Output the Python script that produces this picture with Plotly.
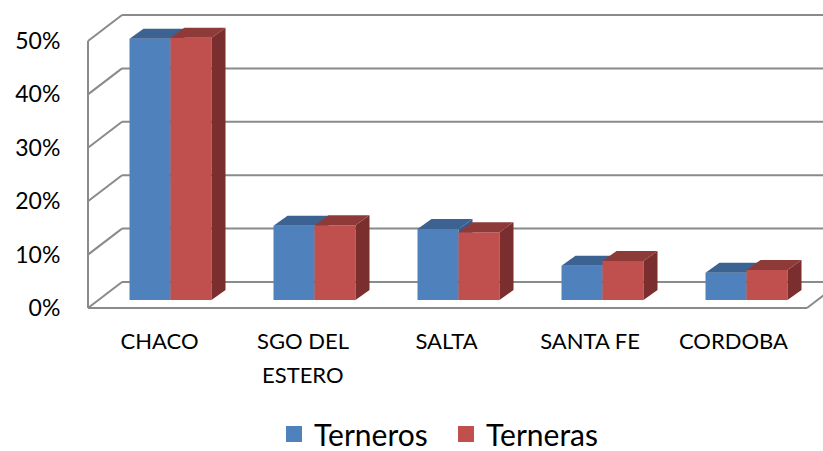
import plotly.graph_objects as go

categories = ["CHACO", "SGO DEL\nESTERO", "SALTA", "SANTA FE", "CORDOBA"]
terneros = [48.9, 13.9, 13.3, 6.4, 5.1]
terneras = [49.1, 14.0, 12.7, 7.3, 5.6]
y_ticks = [0, 10, 20, 30, 40, 50]

W, H = 823, 451
PX_CAT = 144.0      # px per category
PX_VAL = 5.34       # px per percent
X0 = 170.5          # px of category 0 centre
Y0 = 300.0          # px of value 0 at the bars' base
L, B_PX = 85, 311

px2x = lambda p: (p - X0) / PX_CAT
px2y = lambda p: (Y0 - p) / PX_VAL
DX = 14 / PX_CAT    # bar depth
DY = 10 / PX_VAL
BW = 41 / PX_CAT
FRONT = -8 / PX_VAL  # front wall offset in value units
BACK = 18 / PX_VAL   # back wall offset

BLUE, BLUE_TOP, BLUE_SIDE = "#4F81BD", "#3B6290", "#385D8A"
RED, RED_TOP, RED_SIDE = "#C0504D", "#8E3A38", "#7A2F2E"
GRID = "#8A8A8A"
LABEL = dict(family="Lato, sans-serif", color="#000000")


def faces(vals, x_off, color_top, color_side, xa, ya):
    out = []
    for i, v in enumerate(vals):
        l, r = i + x_off, i + x_off + BW
        out.append(go.Scatter(
            x=[r, r + DX, r + DX, r, r], y=[0, DY, v + DY, v, 0],
            fill="toself", fillcolor=color_side, mode="none",
            showlegend=False, hoverinfo="skip", xaxis=xa, yaxis=ya))
        out.append(go.Scatter(
            x=[l, l + DX, r + DX, r, l], y=[v, v + DY, v + DY, v, v],
            fill="toself", fillcolor=color_top, mode="none",
            showlegend=False, hoverinfo="skip", xaxis=xa, yaxis=ya))
    return out


xs = list(range(len(categories)))
fig = go.Figure()
fig.add_trace(go.Bar(x=xs, y=terneros, width=BW, offset=-BW, marker_color=BLUE,
                     marker_line_width=0, name="Terneros", showlegend=False, xaxis="x", yaxis="y"))
for t in faces(terneros, -BW, BLUE_TOP, BLUE_SIDE, "x", "y"):
    fig.add_trace(t)
fig.add_trace(go.Bar(x=xs, y=terneras, width=BW, offset=0, marker_color=RED,
                     marker_line_width=0, name="Terneras", showlegend=False, xaxis="x2", yaxis="y2"))
for t in faces(terneras, 0, RED_TOP, RED_SIDE, "x2", "y2"):
    fig.add_trace(t)

# legend entries
for name, col in (("Terneros", BLUE), ("Terneras", RED)):
    fig.add_trace(go.Scatter(x=[None], y=[None], mode="markers", name=name,
                             marker=dict(symbol="square", size=18, color=col)))

# walls
xl_f, xl_b, xr_f, xr = px2x(88), px2x(122), px2x(807), px2x(830)
shapes = []
line = dict(color=GRID, width=2)
for v in y_ticks:
    shapes.append(dict(type="line", layer="below", xref="x", yref="y", line=line,
                       x0=xl_f, x1=xl_b, y0=v + FRONT, y1=v + BACK))
    shapes.append(dict(type="line", layer="below", xref="x", yref="y", line=line,
                       x0=xl_b, x1=xr, y0=v + BACK, y1=v + BACK))
shapes.append(dict(type="line", layer="below", xref="x", yref="y", line=line,
                   x0=xl_f, x1=xl_f, y0=FRONT, y1=y_ticks[-1] + FRONT))
shapes.append(dict(type="line", layer="below", xref="x", yref="y", line=line,
                   x0=xl_f, x1=xr_f, y0=FRONT, y1=FRONT))
shapes.append(dict(type="line", layer="below", xref="x", yref="y", line=line,
                   x0=xr_f, x1=xr_f + (xl_b - xl_f), y0=FRONT, y1=BACK))

x_range = [px2x(L), px2x(W)]
y_range = [px2y(B_PX), px2y(0)]
tick_x = [i + (-11 - i * 0.5) / PX_CAT for i in xs]

annotations = []
first_lines = []
for i, c in enumerate(categories):
    parts = c.split("\n")
    first_lines.append(parts[0])
    for j, extra in enumerate(parts[1:]):
        annotations.append(dict(text=extra, x=tick_x[i], xref="x",
                                y=1 - (374 + 33 * j) / B_PX, yref="paper", yanchor="middle",
                                showarrow=False, font=dict(size=22, **LABEL)))

fig.update_layout(
    width=W, height=H, margin=dict(l=L, r=0, t=0, b=H - B_PX, pad=0),
    plot_bgcolor="white", paper_bgcolor="white", barmode="overlay",
    shapes=shapes, annotations=annotations,
    xaxis=dict(range=x_range, showgrid=False, zeroline=False, showline=False,
               tickmode="array", tickvals=tick_x, ticktext=first_lines,
               ticks="outside", ticklen=11, tickcolor="rgba(0,0,0,0)",
               tickfont=dict(size=22, **LABEL)),
    yaxis=dict(range=y_range, showgrid=False, zeroline=False, showline=False,
               tickmode="array", tickvals=[v + FRONT for v in y_ticks],
               ticktext=[f"{v}%" for v in y_ticks],
               ticks="outside", ticklen=19, tickcolor="rgba(0,0,0,0)",
               tickfont=dict(size=23, **LABEL)),
    xaxis2=dict(range=x_range, overlaying="x", visible=False),
    yaxis2=dict(range=y_range, overlaying="y", visible=False),
    legend=dict(orientation="h", xref="container", yref="container",
                x=274 / W, xanchor="left", y=1 - 434 / H, yanchor="middle",
                entrywidth=127, entrywidthmode="pixels",
                font=dict(size=30, **LABEL), itemsizing="trace"),
)
fig.write_html("out.html", post_script="document.body.style.margin='0';",
               config={"displayModeBar": False})
